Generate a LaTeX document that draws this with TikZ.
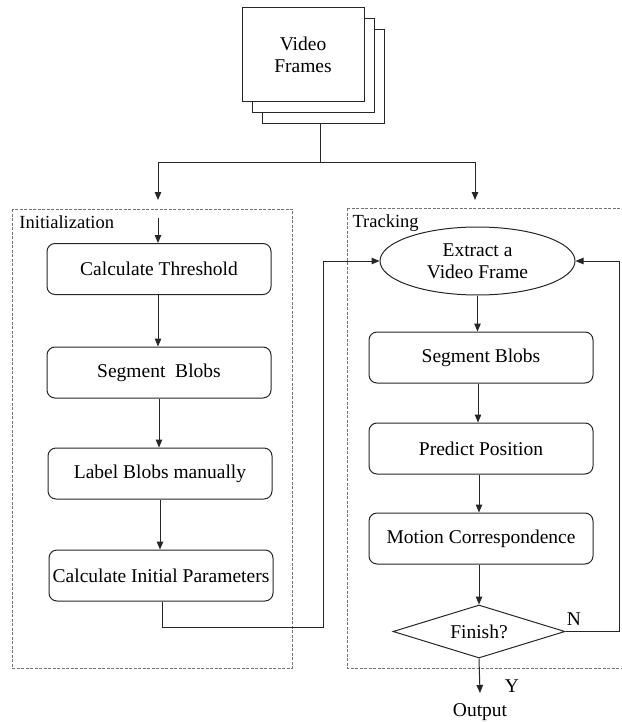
\documentclass[tikz,border=0pt]{standalone}
\usepackage{fontspec}
\setmainfont{Liberation Serif}
\usetikzlibrary{arrows.meta,shapes.geometric}
\begin{document}
\begin{tikzpicture}[x=1pt,y=-1pt,
  font=\fontsize{19.5}{22}\selectfont,
  line width=1pt, draw=black!85,
  arr/.style={-{Triangle[length=8pt,width=6.5pt]}},
  procbox/.style={draw, rounded corners=8pt, minimum width=224pt, minimum height=51pt, inner sep=0pt, align=center},
  frame/.style={draw, fill=white, minimum width=122pt, minimum height=94pt, inner sep=0pt},
  group/.style={draw=black!55, line width=0.6pt, dash pattern=on 3pt off 1.5pt}]
\useasboundingbox (0,0) rectangle (621,722);
% video frames stack
\node[frame] (f3) at (323.5,76.5) {};
\node[frame] (f2) at (313.5,65.5) {};
\node[frame, align=center] (f1) at (303,55) {Video\\Frames};
% groups
\draw[group] (12,209) rectangle (292,668);
\node[anchor=west, inner sep=0pt, font=\fontsize{18.5}{21}\selectfont] (ginit) at (19,222) {Initialization};
\draw[group] (347,208) -- (621,208);
\draw[group] (347,208) -- (347,668) -- (621,668);
\node[anchor=west, inner sep=0pt, font=\fontsize{18.5}{21}\selectfont] (gtrack) at (352,223) {Tracking};
% left column
\node[procbox] (ct) at (159,269) {Calculate Threshold};
\node[procbox] (sb) at (159,372.5) {Segment\ \ Blobs};
\node[procbox] (lb) at (160,473.5) {Label Blobs manually};
\node[procbox] (cp) at (161,575.5) {Calculate Initial Parameters};
% right column
\node[draw, ellipse, minimum width=195pt, minimum height=68pt, inner sep=0pt, align=center] (ex) at (477.5,261) {Extract a\\Video Frame};
\node[procbox] (sr) at (481,357.5) {Segment Blobs};
\node[procbox] (pp) at (481,448.5) {Predict Position};
\node[procbox] (mc) at (481,538.5) {Motion Correspondence};
\node[draw, diamond, aspect=3.25, minimum width=172pt, minimum height=53pt, inner sep=0pt] (fin) at (479,631.5) {Finish?};
\node[inner sep=0pt] (out) at (480,712) {Output};
\node[inner sep=0pt] (ylab) at (512,686) {Y};
\node[inner sep=0pt] (nlab) at (574,619) {N};
% coordinates
\coordinate (split) at (320.7,163);
\coordinate (ia) at (158,200);
\coordinate (ta) at (475,200);
\coordinate (ib) at (158,218);
% connectors
\draw (f3.south -| split) -- (split);
\draw[arr] (split) -| (ia);
\draw[arr] (split) -| (ta);
\draw[arr] (ib) -- (ct.north -| ib);
\draw[arr] (ct.south -| 158,0) -- (sb.north -| 158,0);
\draw[arr] (sb.south -| 159,0) -- (lb.north -| 159,0);
\draw[arr] (lb.south -| 160,0) -- (cp.north -| 160,0);
\draw[arr] (cp.south -| 162,0) -- (162,627) -| (323,261) -- (ex.west);
\draw[arr] (ex.south) -- (sr.north -| ex.south);
\draw[arr] (sr.south -| 478,0) -- (pp.north -| 478,0);
\draw[arr] (pp.south -| 479,0) -- (mc.north -| 479,0);
\draw[arr] (mc.south -| 479,0) -- (fin.north);
\draw[arr] (fin.east) -| (619,261) -- (ex.east);
\draw[arr] (fin.south) -- (480,693);
\end{tikzpicture}
\end{document}
